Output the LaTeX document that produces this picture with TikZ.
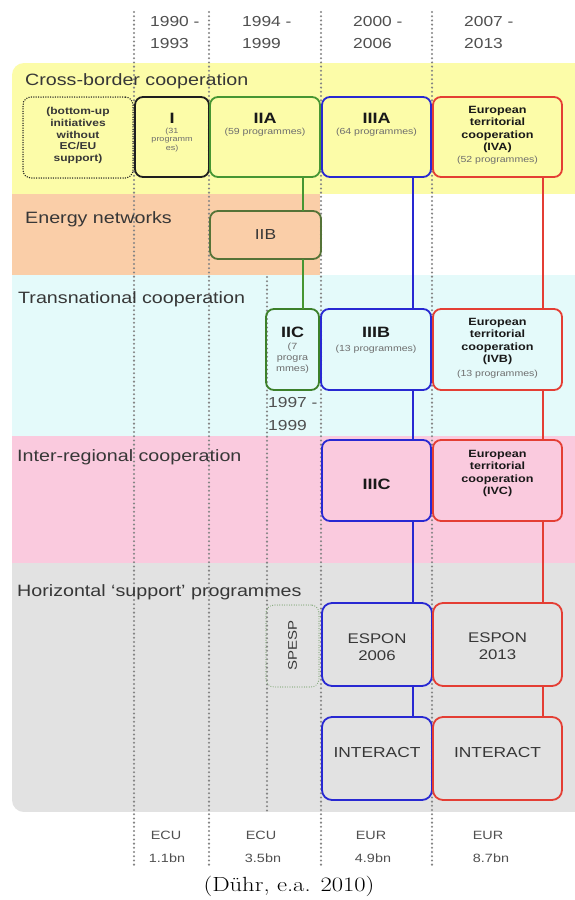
\documentclass[tikz,border=0pt]{standalone}
\usepackage{fontspec}
\usepackage{graphicx}
\newfontfamily\arw[FakeStretch=1.2]{Liberation Sans}
\definecolor{bandY}{RGB}{252,252,168}
\definecolor{bandO}{RGB}{250,206,168}
\definecolor{bandC}{RGB}{228,250,250}
\definecolor{bandP}{RGB}{250,202,222}
\definecolor{bandG}{RGB}{226,226,226}
\definecolor{labc}{RGB}{55,55,55}
\definecolor{yearc}{RGB}{80,80,80}
\definecolor{smallc}{RGB}{110,110,110}
\definecolor{ttlc}{RGB}{25,25,25}
\definecolor{cblack}{RGB}{30,30,30}
\definecolor{cgreen}{RGB}{70,150,50}
\definecolor{colive}{RGB}{85,115,55}
\definecolor{cblue}{RGB}{40,40,210}
\definecolor{cred}{RGB}{228,62,52}
\definecolor{cspesp}{RGB}{125,165,115}
\newcommand\mybox[6]{\node[#6, minimum width={#4-#2}, minimum height={#5-#3}] (#1) at ({(#2+#4)/2},{(#3+#5)/2}) {};}
\begin{document}
\begin{tikzpicture}[x=1pt,y=-1pt,
  vdot/.style={line width=2.3pt, line cap=round, dash pattern=on 0pt off 4.2pt, draw=black!48},
  pbox/.style={draw, line width=1.8pt, rounded corners=8pt, inner sep=0pt, outer sep=0pt},
  dbox/.style={pbox, line width=1.5pt, line cap=round, dash pattern=on 0pt off 2.4pt},
  conn/.style={line width=1.8pt},
  lbl/.style={font={\arw\fontsize{16.4}{19}\selectfont}, text=labc, anchor=west, inner sep=0pt},
  yr/.style={font={\arw\fontsize{14.5}{17}\selectfont}, text=yearc, anchor=west, inner sep=0pt},
  ttl/.style={font={\arw\bfseries\fontsize{15}{17}\selectfont}, text=ttlc, inner sep=0pt},
  ttlr/.style={font={\arw\fontsize{14.5}{17}\selectfont}, text=labc, inner sep=0pt, align=center},
  smt/.style={font={\arw\fontsize{8.8}{10}\selectfont}, text=smallc, inner sep=0pt},
  etc/.style={font={\arw\bfseries\fontsize{10.5}{12.2}\selectfont}, text=ttlc, inner sep=0pt, align=center},
  money/.style={font={\arw\fontsize{12}{14}\selectfont}, text=yearc, inner sep=0pt}
]
\useasboundingbox (0,0) rectangle (575,900);
\fill[white] (0,0) rectangle (575,900);
% bands
\begin{scope}
\clip[rounded corners=12pt] (12,63) rectangle (600,812);
\fill[bandY] (12,63) rectangle (600,194);
\fill[bandO] (12,194) rectangle (320,275);
\fill[bandC] (12,275) rectangle (600,436);
\fill[bandP] (12,436) rectangle (600,563);
\fill[bandG] (12,563) rectangle (600,812);
\end{scope}
% period grid
\draw[vdot] (134,12) -- (134,867);
\draw[vdot] (209,12) -- (209,867);
\draw[vdot] (321,12) -- (321,867);
\draw[vdot] (432,12) -- (432,867);
\draw[vdot] (267,277) -- (267,812);
% years
\node[yr] (y1a) at (150,22) {1990 -};
\node[yr] (y1b) at (150,44) {1993};
\node[yr] (y2a) at (242,22) {1994 -};
\node[yr] (y2b) at (242,44) {1999};
\node[yr] (y3a) at (353,22) {2000 -};
\node[yr] (y3b) at (353,44) {2006};
\node[yr] (y4a) at (464,22) {2007 -};
\node[yr] (y4b) at (464,44) {2013};
\node[yr] (y5a) at (268,403) {1997 -};
\node[yr] (y5b) at (268,426) {1999};
% band labels
\node[lbl] (l1) at (25,81) {Cross-border cooperation};
\node[lbl] (l2) at (25,219) {Energy networks};
\node[lbl] (l3) at (18,299) {Transnational cooperation};
\node[lbl] (l4) at (17,457) {Inter-regional cooperation};
\node[lbl] (l5) at (17,592) {Horizontal ‘support’ programmes};
% boxes
\mybox{bu}{23}{97}{133}{178}{dbox, draw=cblack}
\mybox{bI}{135}{97}{209}{177}{pbox, draw=cblack}
\mybox{bIIA}{210}{97}{320}{177}{pbox, draw=cgreen}
\mybox{bIIIA}{322}{97}{431}{177}{pbox, draw=cblue}
\mybox{bIVA}{433}{97}{562}{177}{pbox, draw=cred}
\mybox{bIIB}{210}{211}{321}{259}{pbox, draw=colive}
\mybox{bIIC}{266}{309}{319}{390}{pbox, draw=cgreen!85!black}
\mybox{bIIIB}{321}{309}{431}{390}{pbox, draw=cblue}
\mybox{bIVB}{433}{309}{562}{390}{pbox, draw=cred}
\mybox{bIIIC}{322}{440}{431}{521}{pbox, draw=cblue}
\mybox{bIVC}{433}{440}{562}{521}{pbox, draw=cred}
\mybox{bSP}{266}{605}{319}{687}{dbox, line width=1.2pt, draw=cspesp}
\mybox{bE06}{322}{603}{432}{686}{pbox, rounded corners=10pt, draw=cblue}
\mybox{bE13}{433}{603}{562}{686}{pbox, rounded corners=10pt, draw=cred}
\mybox{bN06}{322}{717}{432}{800}{pbox, rounded corners=10pt, draw=cblue}
\mybox{bN13}{433}{717}{562}{800}{pbox, rounded corners=10pt, draw=cred}
% connectors
\coordinate (gx) at (303,0);
\coordinate (bx) at (413,0);
\coordinate (rx) at (543,0);
\draw[conn, cgreen] (bIIA.south -| gx) -- (bIIB.north -| gx);
\draw[conn, cgreen] (bIIB.south -| gx) -- (bIIC.north -| gx);
\draw[conn, cblue] (bIIIA.south -| bx) -- (bIIIB.north -| bx);
\draw[conn, cblue] (bIIIB.south -| bx) -- (bIIIC.north -| bx);
\draw[conn, cblue] (bIIIC.south -| bx) -- (bE06.north -| bx);
\draw[conn, cblue] (bE06.south -| bx) -- (bN06.north -| bx);
\draw[conn, cred] (bIVA.south -| rx) -- (bIVB.north -| rx);
\draw[conn, cred] (bIVB.south -| rx) -- (bIVC.north -| rx);
\draw[conn, cred] (bIVC.south -| rx) -- (bE13.north -| rx);
\draw[conn, cred] (bE13.south -| rx) -- (bN13.north -| rx);
% box texts
\node[font={\arw\bfseries\fontsize{10}{11.7}\selectfont}, text=labc, align=center, inner sep=0pt] (tbu) at (78,135.5) {(bottom-up\\initiatives\\without\\EC/EU\\support)};
\node[ttl] (tI) at (172,118) {I};
\node[font={\arw\fontsize{7.5}{8.3}\selectfont}, text=smallc, align=center, inner sep=0pt] (sI) at (172,140) {(31\\programm\\es)};
\node[ttl] (tIIA) at (265,118) {IIA};
\node[smt] (sIIA) at (265,132) {(59 programmes)};
\node[ttl] (tIIIA) at (376.5,118) {IIIA};
\node[smt] (sIIIA) at (376.5,132) {(64 programmes)};
\node[etc] (tIVA) at (497.5,129.5) {European\\territorial\\cooperation\\(IVA)};
\node[smt] (sIVA) at (497.5,160) {(52 programmes)};
\node[ttlr] (tIIB) at (265.5,235) {IIB};
\node[ttl] (tIIC) at (292.5,332) {IIC};
\node[font={\arw\fontsize{9}{11}\selectfont}, text=smallc, align=center, inner sep=0pt] (sIIC) at (292.5,358) {(7\\progra\\mmes)};
\node[ttl] (tIIIB) at (376,332) {IIIB};
\node[smt] (sIIIB) at (376,349) {(13 programmes)};
\node[etc] (tIVB) at (497.5,341.5) {European\\territorial\\cooperation\\(IVB)};
\node[smt] (sIVB) at (497.5,374) {(13 programmes)};
\node[ttl] (tIIIC) at (376.5,484) {IIIC};
\node[etc] (tIVC) at (497.5,473.5) {European\\territorial\\cooperation\\(IVC)};
\node[ttlr, font={\arw\fontsize{12.5}{15}\selectfont}, rotate=90] (tSP) at (292.5,645) {SPESP};
\node[ttlr, font={\arw\fontsize{14}{17}\selectfont}] (tE06) at (377,647.5) {ESPON\\2006};
\node[ttlr, font={\arw\fontsize{14}{17}\selectfont}] (tE13) at (497.5,646.5) {ESPON\\2013};
\node[ttlr] (tN06) at (377,752) {INTERACT};
\node[ttlr] (tN13) at (497.5,752) {INTERACT};
% money
\node[money] (m1a) at (166,835) {ECU};
\node[money] (m1b) at (167,858) {1.1bn};
\node[money] (m2a) at (261,835) {ECU};
\node[money] (m2b) at (263,858) {3.5bn};
\node[money] (m3a) at (371,835) {EUR};
\node[money] (m3b) at (373,858) {4.9bn};
\node[money] (m4a) at (488,835) {EUR};
\node[money] (m4b) at (491,858) {8.7bn};
% caption
\node[inner sep=0pt] (cap) at (289,886) {\scalebox{1.2}[1]{\fontsize{20.5}{23}\selectfont (Dühr, e.a. 2010)}};
\end{tikzpicture}
\end{document}
